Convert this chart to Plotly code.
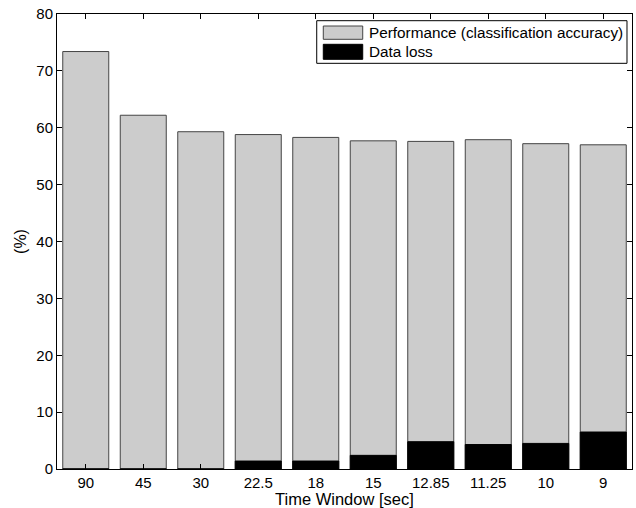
import plotly.graph_objects as go

windows = ["90", "45", "30", "22.5", "18", "15", "12.85", "11.25", "10", "9"]
performance = [73.4, 62.2, 59.3, 58.8, 58.3, 57.7, 57.6, 57.9, 57.2, 57.0]
data_loss = [0, 0, 0, 1.4, 1.4, 2.4, 4.8, 4.3, 4.5, 6.5]
y_ticks = [0, 10, 20, 30, 40, 50, 60, 70, 80]
legend_labels = ["Performance (classification accuracy)", "Data loss"]
x_title = "Time Window [sec]"
y_title = "(%)"

FONT = "Liberation Sans, Arial, Helvetica, sans-serif"
GRAY = "#cccccc"

fig = go.Figure()
fig.add_trace(go.Bar(x=windows, y=performance, width=0.8, name=legend_labels[0],
                     marker=dict(color=GRAY, line=dict(color="#444444", width=1))))
fig.add_trace(go.Bar(x=windows, y=data_loss, width=0.8, name=legend_labels[1],
                     marker=dict(color="black", line=dict(color="black", width=1))))

# legend box drawn manually (MATLAB-style wide swatches)
L = dict(x0=0.4517, x1=0.9913, y0=0.8916, y1=0.9853)
fig.add_shape(type="rect", xref="paper", yref="paper", **L,
              line=dict(color="black", width=1), fillcolor="white", layer="above")
sw = [(0.9444, 0.9736, GRAY, "#444444"), (0.9004, 0.9334, "black", "black")]
for (y0, y1, fc, lc) in sw:
    fig.add_shape(type="rect", xref="paper", yref="paper", x0=0.4631, x1=0.5317,
                  y0=y0, y1=y1, fillcolor=fc, line=dict(color=lc, width=1), layer="above")
for lab, yc in zip(legend_labels, [0.9590, 0.9169]):
    fig.add_annotation(text=lab, xref="paper", yref="paper", x=0.5386, y=yc,
                       xanchor="left", yanchor="middle", showarrow=False,
                       font=dict(family=FONT, size=15.3, color="black"))

# x-axis title placed explicitly (axis titles are clamped inside the margin)
fig.add_annotation(text=x_title, xref="paper", yref="paper", x=0.5, y=-0.0665,
                   xanchor="center", yanchor="middle", showarrow=False, borderpad=0,
                   font=dict(family=FONT, size=16.5, color="black"))

fig.update_layout(
    width=636, height=508,
    margin=dict(l=57, r=4, t=14, b=39),
    barmode="overlay",
    showlegend=False,
    plot_bgcolor="white", paper_bgcolor="white",
    font=dict(family=FONT, size=15, color="black"),
)
fig.update_xaxes(
    range=[-0.5, 9.5], showline=True, linecolor="black", linewidth=1, mirror="ticks",
    ticks="inside", ticklen=5, tickcolor="black", showgrid=False,
    tickfont=dict(size=15), automargin=False,
)
fig.update_yaxes(
    range=[0, 80], tickvals=y_ticks, showline=True, linecolor="black", linewidth=1,
    mirror="ticks", ticks="inside", ticklen=5, tickcolor="black", showgrid=False,
    zeroline=False, title=dict(text=y_title, font=dict(size=16), standoff=5),
    tickfont=dict(size=15), automargin=False,
)

fig.write_html("out.html", config={"displayModeBar": False},
               post_script="document.body.style.margin='0';document.body.style.overflow='hidden';")
